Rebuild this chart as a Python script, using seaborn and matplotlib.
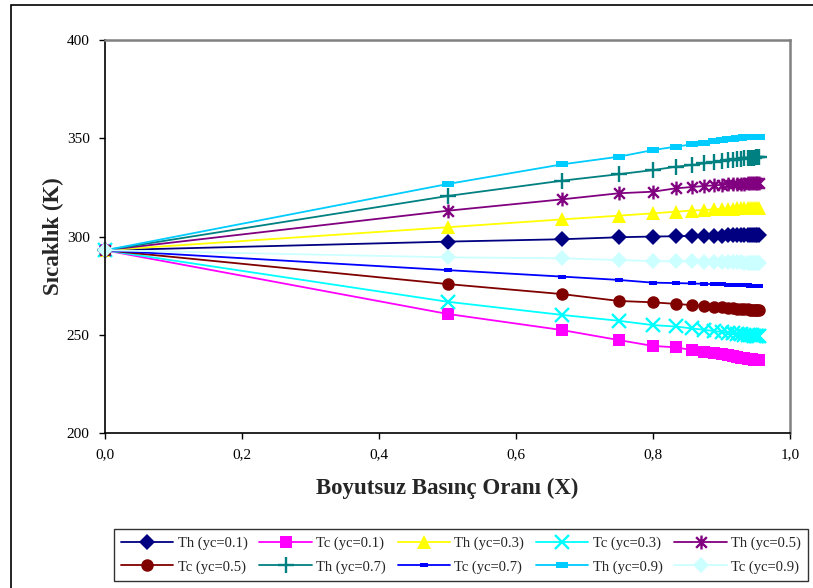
import numpy as np
import pandas as pd
import matplotlib
matplotlib.use("Agg")
import matplotlib.pyplot as plt
from matplotlib.path import Path
from matplotlib.patches import Rectangle
from matplotlib.ticker import FuncFormatter
import seaborn as sns

# dimensionless pressure ratio
X = [0, 0.5, 0.667, 0.75, 0.8, 0.833, 0.857, 0.875, 0.889, 0.9, 0.909,
     0.917, 0.923, 0.929, 0.933, 0.938, 0.941, 0.944, 0.947, 0.95, 0.952, 0.955]

th_01 = [293, 297.4, 298.6, 299.6, 300.0, 300.1, 300.3, 300.4, 300.5, 300.5, 300.6,
         300.6, 300.7, 300.7, 300.7, 300.8, 300.8, 300.8, 300.8, 300.8, 300.8, 300.8]
tc_01 = [293, 260.6, 252.4, 247.3, 244.3, 243.6, 242.2, 241.3, 240.6, 240.0, 239.5,
         239.1, 238.7, 238.4, 238.1, 237.9, 237.7, 237.5, 237.4, 237.3, 237.2, 237.1]
th_03 = [293, 304.7, 308.7, 310.6, 311.8, 312.6, 313.2, 313.5, 313.8, 314.0, 314.1,
         314.2, 314.3, 314.4, 314.5, 314.5, 314.6, 314.6, 314.6, 314.7, 314.7, 314.7]
tc_03 = [293, 266.8, 260.1, 257.1, 254.9, 254.2, 253.2, 252.5, 251.9, 251.4, 251.0,
         250.7, 250.4, 250.2, 250.0, 249.9, 249.8, 249.7, 249.6, 249.5, 249.5, 249.4]
th_05 = [293, 313.1, 318.9, 322.0, 322.8, 324.5, 325.2, 325.7, 326.0, 326.3, 326.5,
         326.6, 326.7, 326.8, 326.9, 327.0, 327.0, 327.1, 327.1, 327.1, 327.1, 327.2]
tc_05 = [293, 275.8, 270.7, 267.2, 266.5, 265.7, 265.1, 264.6, 264.2, 263.9, 263.6,
         263.4, 263.2, 263.1, 263.0, 262.9, 262.8, 262.7, 262.7, 262.6, 262.6, 262.6]
th_07 = [293, 320.6, 328.4, 331.7, 333.8, 335.5, 336.4, 337.2, 337.8, 338.3, 338.7,
         339.0, 339.3, 339.5, 339.7, 339.9, 340.0, 340.1, 340.2, 340.3, 340.4, 340.5]
tc_07 = [293, 282.9, 279.6, 277.9, 276.5, 276.3, 276.1, 275.9, 275.7, 275.6, 275.5,
         275.4, 275.3, 275.2, 275.1, 275.1, 275.0, 275.0, 275.0, 274.9, 274.9, 274.8]
th_09 = [293, 326.7, 336.7, 340.6, 344.0, 345.7, 346.9, 347.8, 348.5, 349.0, 349.4,
         349.7, 350.0, 350.2, 350.4, 350.5, 350.6, 350.7, 350.8, 350.8, 350.8, 350.8]
tc_09 = [293, 289.4, 288.9, 288.0, 287.5, 287.4, 287.3, 287.2, 287.1, 287.0, 286.9,
         286.9, 286.8, 286.8, 286.7, 286.7, 286.6, 286.6, 286.6, 286.5, 286.5, 286.4]

labels = ["Th (yc=0.1)", "Tc (yc=0.1)", "Th (yc=0.3)", "Tc (yc=0.3)", "Th (yc=0.5)",
          "Tc (yc=0.5)", "Th (yc=0.7)", "Tc (yc=0.7)", "Th (yc=0.9)", "Tc (yc=0.9)"]
series = [th_01, tc_01, th_03, tc_03, th_05, tc_05, th_07, tc_07, th_09, tc_09]

# excel-ish markers
star = Path([(-1, -1), (1, 1), (-1, 1), (1, -1), (0, -1.3), (0, 1.3)],
            [Path.MOVETO, Path.LINETO, Path.MOVETO, Path.LINETO, Path.MOVETO, Path.LINETO])
dash = [(-1, -0.45), (1, -0.45), (1, 0.45), (-1, 0.45)]

styles = [
    dict(color="#000080", marker="D", ms=8),
    dict(color="#FF00FF", marker="s", ms=9),
    dict(color="#FFFF00", marker="^", ms=10),
    dict(color="#00FFFF", marker="x", ms=10, mew=1.7),
    dict(color="#800080", marker=star, ms=10, mew=1.7, mfc="none"),
    dict(color="#800000", marker="o", ms=9),
    dict(color="#008080", marker="+", ms=12, mew=1.7),
    dict(color="#0000FF", marker=dash, ms=6),
    dict(color="#00CCFF", marker=dash, ms=9),
    dict(color="#CCFFFF", marker="D", ms=8),
]

sns.set_style("white")
plt.rcParams["font.family"] = ["Liberation Serif", "DejaVu Serif"]

fig = plt.figure(figsize=(8.13, 5.88), dpi=100)
ax = fig.add_axes([105 / 813, 1 - 433 / 588, 685 / 813, 393 / 588])

handles = []
for lab, vals, st in zip(labels, series, styles):
    df = pd.DataFrame({"X": X, "T": vals})
    sns.lineplot(data=df, x="X", y="T", ax=ax, color=st["color"], linewidth=1.3,
                 marker=st["marker"], markersize=st["ms"],
                 markeredgewidth=st.get("mew", 0), markeredgecolor=st["color"],
                 markerfacecolor=st.get("mfc", st["color"]), label=lab, legend=False,
                 clip_on=False)
    handles.append(ax.lines[-1])

ax.set_xlim(0, 1.0)
ax.set_ylim(200, 400)
ax.set_xticks(np.arange(0, 1.01, 0.2))
ax.set_yticks(np.arange(200, 401, 50))
ax.xaxis.set_major_formatter(FuncFormatter(lambda v, p: f"{v:.1f}".replace(".", ",")))
ax.tick_params(axis="both", direction="out", length=4, width=1, labelsize=11,
               bottom=True, left=True, colors="black", pad=7)
for s in ["left", "bottom"]:
    ax.spines[s].set_color("black")
    ax.spines[s].set_linewidth(1.2)
for s in ["top", "right"]:
    ax.spines[s].set_color("#808080")
    ax.spines[s].set_linewidth(1.8)

ax.set_xlabel("Boyutsuz Basınç Oranı (X)", fontsize=16.5, fontweight="bold", labelpad=12)
ax.set_ylabel("Sıcaklık (K)", fontsize=16.5, fontweight="bold", labelpad=2)

# legend fills column by column, so reorder to read row by row
order = [0, 5, 1, 6, 2, 7, 3, 8, 4, 9]
leg = fig.legend([handles[i] for i in order], [labels[i] for i in order], ncol=5,
                 loc="center", bbox_to_anchor=(461 / 813, 1 - 555 / 588), fontsize=10.5,
                 frameon=True, fancybox=False, edgecolor="black", handlelength=3.6,
                 columnspacing=0.8, handletextpad=0.3, labelspacing=0.7,
                 borderpad=0.5)
leg.get_frame().set_linewidth(1.0)

# outer chart frame
fig.patches.append(Rectangle((11 / 813, -0.05), 1.0, 1.05 - 5 / 588, transform=fig.transFigure,
                             fill=False, edgecolor="black", linewidth=1.2))

fig.savefig("out.png", dpi=100)
